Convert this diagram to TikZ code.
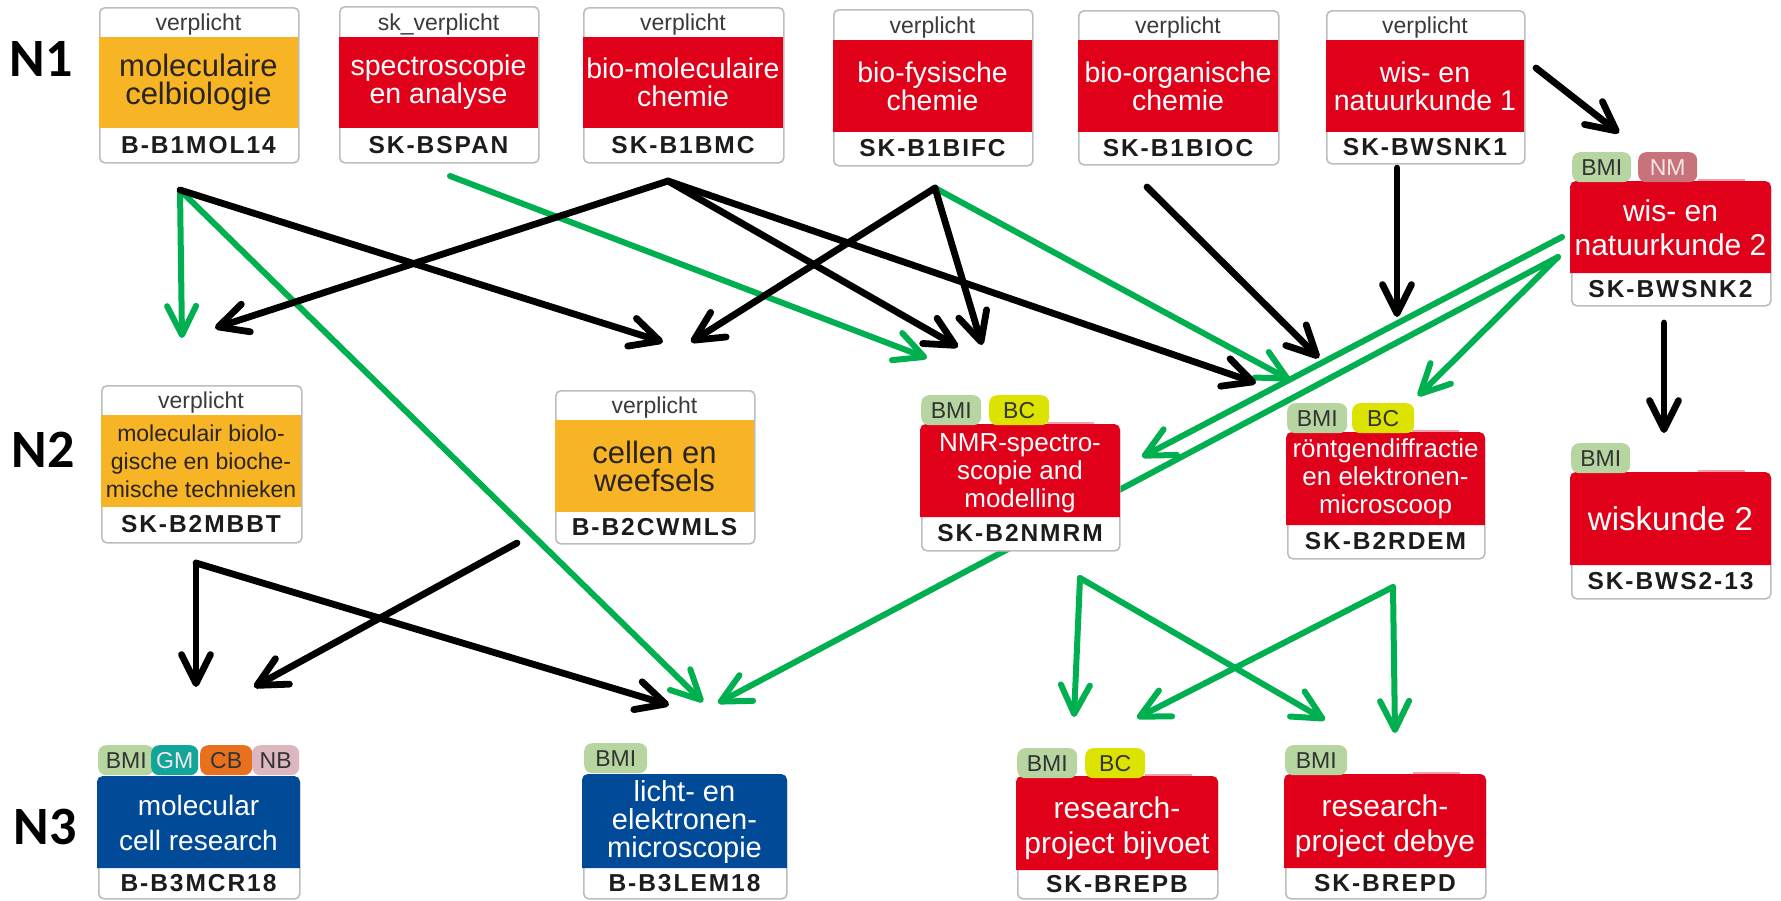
\documentclass[tikz,border=0pt]{standalone}
\usepackage{fontspec}
\setmainfont{Liberation Sans}
\newfontfamily\rowfont{Carlito}
\newfontfamily\codefont[LetterSpace=8]{Liberation Sans}
\usetikzlibrary{arrows.meta}

\definecolor{coursered}{HTML}{E0001A}
\definecolor{courseorange}{HTML}{F7B526}
\definecolor{courseblue}{HTML}{004A98}
\definecolor{linkgreen}{HTML}{00B050}
\definecolor{framegray}{HTML}{BDBDBD}
\definecolor{hdrgray}{HTML}{3A3A3A}
\definecolor{codeblack}{HTML}{1C1C1C}
\definecolor{darktext}{HTML}{2A2320}
\definecolor{tagbmi}{HTML}{B7D5A0}
\definecolor{tagbc}{HTML}{DCE300}
\definecolor{tagnm}{HTML}{C8737B}
\definecolor{taggm}{HTML}{12A69B}
\definecolor{tagcb}{HTML}{E8711F}
\definecolor{tagnb}{HTML}{DDB7BF}
\definecolor{tagdark}{HTML}{333333}
\definecolor{taglight}{HTML}{F4E6E6}
\definecolor{tabpink}{HTML}{F2A3AA}

\tikzset{
  frame/.style={draw=framegray, line width=1.6pt, fill=white, rounded corners=5pt, inner sep=0pt, anchor=north west},
  hdrtext/.style={font=\fontsize{23}{23}\selectfont, text=hdrgray, inner sep=0pt, anchor=base},
  codetext/.style={font=\codefont\bfseries\fontsize{24.5}{24.5}\selectfont, text=codeblack, inner sep=0pt},
  ttl/.style={align=center, inner sep=0pt},
  onred/.style={ttl, text=white},
  onorange/.style={ttl, text=darktext},
  tag/.style={rounded corners=8pt, inner sep=0pt, anchor=north west, minimum height=30pt,
              font=\fontsize{23}{23}\selectfont, text=tagdark},
  link/.style={line cap=round, line join=round, -{Straight Barb[length=29pt,width=29pt,round]}},
  blk/.style={link, draw=black, line width=6.8pt},
  grn/.style={link, draw=linkgreen, line width=6pt},
  rowlabel/.style={font=\rowfont\bfseries\fontsize{54}{54}\selectfont, inner sep=0pt},
}

% course box with a white header strip
% #1 name, #2 left, #3 top, #4 width, #5 height, #6 header depth, #7 band depth, #8 band colour, #9 header text
\newcommand\hdrcourse[9]{%
  \node[frame, minimum width=#4pt, minimum height=#5pt] (#1) at (#2,#3) {};
  \fill[#8] (#2,#3+#6) rectangle (#2+#4,#3+#7);
  \node[hdrtext] (#1-hdr) at (#2+#4/2,#3+#6-7) {#9};
  \coordinate (#1-ttl) at (#2+#4/2,#3+#6/2+#7/2);
  \coordinate (#1-code) at (#2+#4/2,#3+#7/2+#5/2);
}
% course box with a coloured top, tags sit above it
% #1 name, #2 left, #3 top, #4 width, #5 height, #6 band depth, #7 band colour
\newcommand\tagcourse[7]{%
  \node[frame, minimum width=#4pt, minimum height=#5pt] (#1) at (#2,#3) {};
  \fill[#7] (#2-0.8,#3+#6) [rounded corners=5pt] -- (#2-0.8,#3-0.8) -- (#2+#4+0.8,#3-0.8)
            [sharp corners] -- (#2+#4+0.8,#3+#6) -- cycle;
  \coordinate (#1-ttl) at (#2+#4/2,#3+#6/2);
  \coordinate (#1-code) at (#2+#4/2,#3+#6/2+#5/2);
}
% faint tab line over the right part of a box top
% #1 box right edge, #2 box top
\newcommand\pinktab[2]{\fill[tabpink] (#1-72,#2-3) rectangle (#1-25,#2);}

\begin{document}
\begin{tikzpicture}[x=1pt,y=-1pt]
\fill[white] (0,0) rectangle (1781,900);
\useasboundingbox (0,0) rectangle (1781,900);

% ---- connector end points
\coordinate (mol-out) at (180,190);
\coordinate (span-out) at (450,176);
\coordinate (bmc-out) at (668,181);
\coordinate (bifc-out) at (935,188);
\coordinate (bioc-out) at (1147,187);
\coordinate (wsnka-down) at (1397,168);
\coordinate (wsnka-side) at (1536,68);
\coordinate (wsnkb-outa) at (1562,237);
\coordinate (wsnkb-outb) at (1558,257);
\coordinate (wsnkb-down) at (1664,323);
\coordinate (mbbt-out) at (196,563);
\coordinate (cw-out) at (517,543);
\coordinate (nmr-out) at (1080,578);
\coordinate (rde-out) at (1393,587);

\coordinate (mbbt-in-g) at (182,338);
\coordinate (mbbt-in-k) at (215,328);
\coordinate (cw-in-a) at (663,342);
\coordinate (cw-in-b) at (691,342);
\coordinate (nmr-in-g) at (927,358);
\coordinate (nmr-in-a) at (958,347);
\coordinate (nmr-in-b) at (982,345);
\coordinate (nmr-in-side) at (1142,457);
\coordinate (rde-in-a) at (1256,383);
\coordinate (rde-in-g) at (1290,380);
\coordinate (rde-in-b) at (1319,358);
\coordinate (rde-in-c) at (1397,317);
\coordinate (rde-in-side) at (1418,396);
\coordinate (wsnkb-in) at (1619,133);
\coordinate (bws-in) at (1664,433);
\coordinate (mcr-in-a) at (196,687);
\coordinate (mcr-in-b) at (254,687);
\coordinate (lem-in-k) at (669,705);
\coordinate (lem-in-g) at (703,702);
\coordinate (lem-in-side) at (718,703);
\coordinate (repb-in-a) at (1074,717);
\coordinate (repb-in-b) at (1137,718);
\coordinate (repd-in-a) at (1325,720);
\coordinate (repd-in-b) at (1395,733);

% ---- prerequisite links (drawn first, boxes lie on top)
\draw[grn] (mol-out) -- (mbbt-in-g);
\draw[grn] (mol-out) -- (lem-in-g);
\draw[grn] (span-out) -- (nmr-in-g);
\draw[grn] (bifc-out) -- (rde-in-g);
\draw[grn] (wsnkb-outa) -- (nmr-in-side);
\draw[grn] (wsnkb-outb) -- (lem-in-side);
\draw[grn] (wsnkb-outb) -- (rde-in-side);
\draw[grn] (nmr-out) -- (repb-in-a);
\draw[grn] (nmr-out) -- (repd-in-a);
\draw[grn] (rde-out) -- (repb-in-b);
\draw[grn] (rde-out) -- (repd-in-b);

\draw[blk] (mol-out) -- (cw-in-a);
\draw[blk] (bmc-out) -- (mbbt-in-k);
\draw[blk] (bmc-out) -- (nmr-in-a);
\draw[blk] (bmc-out) -- (rde-in-a);
\draw[blk] (bifc-out) -- (cw-in-b);
\draw[blk] (bifc-out) -- (nmr-in-b);
\draw[blk] (bioc-out) -- (rde-in-b);
\draw[blk] (wsnka-down) -- (rde-in-c);
\draw[blk] (wsnka-side) -- (wsnkb-in);
\draw[blk] (wsnkb-down) -- (bws-in);
\draw[blk] (mbbt-out) -- (mcr-in-a);
\draw[blk] (mbbt-out) -- (lem-in-k);
\draw[blk] (cw-out) -- (mcr-in-b);

% ---- year 1
\hdrcourse{mol}{99}{7}{199}{155}{30}{121}{courseorange}{verplicht}
\node[onorange, font=\fontsize{31}{28}\selectfont] (mol-name) at (mol-ttl) {moleculaire\\celbiologie};
\node[codetext] (mol-id) at (mol-code) {B-B1MOL14};

\hdrcourse{span}{339}{6}{199}{156}{31}{122}{coursered}{sk\_verplicht}
\node[onred, font=\fontsize{28.5}{28}\selectfont] (span-name) at (span-ttl) {spectroscopie\\en analyse};
\node[codetext] (span-id) at (span-code) {SK-BSPAN};

\hdrcourse{bmc}{583}{7}{200}{155}{30}{121}{coursered}{verplicht}
\node[onred, font=\fontsize{28.5}{28}\selectfont] (bmc-name) at (bmc-ttl) {bio-moleculaire\\chemie};
\node[codetext] (bmc-id) at (bmc-code) {SK-B1BMC};

\hdrcourse{bifc}{833}{9}{199}{156}{31}{123}{coursered}{verplicht}
\node[onred, font=\fontsize{28.5}{28}\selectfont] (bifc-name) at (bifc-ttl) {bio-fysische\\chemie};
\node[codetext] (bifc-id) at (bifc-code) {SK-B1BIFC};

\hdrcourse{bioc}{1078}{10}{200}{154}{30}{122}{coursered}{verplicht}
\node[onred, font=\fontsize{28.5}{28}\selectfont] (bioc-name) at (bioc-ttl) {bio-organische\\chemie};
\node[codetext] (bioc-id) at (bioc-code) {SK-B1BIOC};

\hdrcourse{wsnka}{1326}{10}{198}{153}{30}{122}{coursered}{verplicht}
\node[onred, font=\fontsize{28.5}{28}\selectfont] (wsnka-name) at (wsnka-ttl) {wis- en\\natuurkunde 1};
\node[codetext] (wsnka-id) at (wsnka-code) {SK-BWSNK1};

\pinktab{1770}{182}
\tagcourse{wsnkb}{1571}{182}{199}{123}{91}{coursered}
\node[tag, fill=tagbmi, minimum width=59pt] (wsnkb-t1) at (1572,152) {BMI};
\node[tag, fill=tagnm, minimum width=59pt, text=taglight] (wsnkb-t2) at (1638,152) {NM};
\node[onred, font=\fontsize{30}{34}\selectfont] (wsnkb-name) at (wsnkb-ttl) {wis- en\\natuurkunde 2};
\node[codetext] (wsnkb-id) at (wsnkb-code) {SK-BWSNK2};

% ---- year 2
\hdrcourse{mbbt}{101}{385}{200}{157}{30}{122}{courseorange}{verplicht}
\node[onorange, font=\fontsize{23}{28}\selectfont] (mbbt-name) at (mbbt-ttl) {moleculair biolo-\\gische en bioche-\\mische technieken};
\node[codetext] (mbbt-id) at (mbbt-code) {SK-B2MBBT};

\hdrcourse{cw}{555}{390}{199}{153}{30}{122}{courseorange}{verplicht}
\node[onorange, font=\fontsize{31}{28}\selectfont] (cw-name) at (cw-ttl) {cellen en\\weefsels};
\node[codetext] (cw-id) at (cw-code) {B-B2CWMLS};

\pinktab{1119}{425}
\tagcourse{nmr}{921}{425}{198}{125}{92}{coursered}
\node[tag, fill=tagbmi, minimum width=60pt] (nmr-t1) at (921,395) {BMI};
\node[tag, fill=tagbc, minimum width=60pt] (nmr-t2) at (989,395) {BC};
\node[onred, font=\fontsize{26}{28}\selectfont] (nmr-name) at ([yshift=-2pt]nmr-ttl) {NMR-spectro-\\scopie and\\modelling};
\node[codetext] (nmr-id) at (nmr-code) {SK-B2NMRM};

\pinktab{1484}{433}
\tagcourse{rde}{1287}{433}{197}{125}{92}{coursered}
\node[tag, fill=tagbmi, minimum width=60pt] (rde-t1) at (1287,403) {BMI};
\node[tag, fill=tagbc, minimum width=62pt] (rde-t2) at (1352,403) {BC};
\node[onred, font=\fontsize{26}{28}\selectfont] (rde-name) at (rde-ttl) {röntgendiffractie\\en elektronen-\\microscoop};
\node[codetext] (rde-id) at (rde-code) {SK-B2RDEM};

\pinktab{1770}{473}
\tagcourse{bws}{1571}{473}{199}{125}{92}{coursered}
\node[tag, fill=tagbmi, minimum width=59pt] (bws-t1) at (1571,443) {BMI};
\node[onred, font=\fontsize{33}{34}\selectfont] (bws-name) at (bws-ttl) {wiskunde 2};
\node[codetext] (bws-id) at (bws-code) {SK-BWS2-13};

% ---- year 3
\tagcourse{mcr}{98}{777}{201}{121}{91}{courseblue}
\node[tag, fill=tagbmi, minimum width=56pt] (mcr-t1) at (98,745) {BMI};
\node[tag, fill=taggm, minimum width=47pt, text=taglight] (mcr-t2) at (151,745) {GM};
\node[tag, fill=tagcb, minimum width=52pt] (mcr-t3) at (200,745) {CB};
\node[tag, fill=tagnb, minimum width=47pt] (mcr-t4) at (252,745) {NB};
\node[onred, font=\fontsize{28}{35}\selectfont] (mcr-name) at (mcr-ttl) {molecular\\cell research};
\node[codetext] (mcr-id) at (mcr-code) {B-B3MCR18};

\tagcourse{lem}{583}{775}{203}{123}{93}{courseblue}
\node[tag, fill=tagbmi, minimum width=63pt] (lem-t1) at (584,743) {BMI};
\node[onred, font=\fontsize{29}{28}\selectfont] (lem-name) at (lem-ttl) {licht- en\\elektronen-\\microscopie};
\node[codetext] (lem-id) at (lem-code) {B-B3LEM18};

\pinktab{1217}{777}
\tagcourse{repb}{1017}{777}{200}{121}{93}{coursered}
\node[tag, fill=tagbmi, minimum width=60pt] (repb-t1) at (1017,748) {BMI};
\node[tag, fill=tagbc, minimum width=60pt] (repb-t2) at (1085,748) {BC};
\node[onred, font=\fontsize{30}{35}\selectfont] (repb-name) at ([yshift=-5pt]repb-ttl) {research-\\project bijvoet};
\node[codetext] (repb-id) at (repb-code) {SK-BREPB};

\pinktab{1485}{775}
\tagcourse{repd}{1285}{775}{200}{123}{93}{coursered}
\node[tag, fill=tagbmi, minimum width=62pt] (repd-t1) at (1285,745) {BMI};
\node[onred, font=\fontsize{30}{35}\selectfont] (repd-name) at ([yshift=-5pt]repd-ttl) {research-\\project debye};
\node[codetext] (repd-id) at (repd-code) {SK-BREPD};

% ---- year labels
\node[rowlabel] (row1) at (41,59) {N1};
\node[rowlabel] (row2) at (43,450) {N2};
\node[rowlabel] (row3) at (45,827) {N3};
\end{tikzpicture}
\end{document}
